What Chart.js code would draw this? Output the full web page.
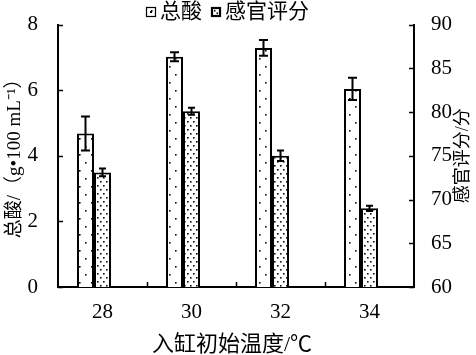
<!DOCTYPE html>
<html>
<head>
<meta charset="utf-8">
<script src="https://cdn.jsdelivr.net/npm/chart.js@4.4.1/dist/chart.umd.min.js"></script>
<style>
html, body { margin: 0; padding: 0; background: #fff; }
#wrap { width: 476px; height: 355px; }
</style>
</head>
<body>
<div id="wrap"><canvas id="chart"></canvas></div>
<script>
// data
var temps = ['28', '30', '32', '34'];
var totalAcid = [4.68, 7.02, 7.29, 6.04];
var totalAcidErr = [0.52, 0.14, 0.24, 0.34];
var sensory = [73.1, 80.1, 75.0, 69.0];
var sensoryErr = [0.45, 0.4, 0.6, 0.3];
var acidTicks = [0, 2, 4, 6, 8];
var sensoryTicks = [60, 65, 70, 75, 80, 85, 90];

var serif = "'Liberation Serif', 'Times New Roman', Tinos, serif";
var cjk = "'Liberation Serif', 'Noto Sans CJK SC', sans-serif";

Chart.defaults.font.family = serif;
Chart.defaults.color = '#000';

var ctx = document.getElementById('chart').getContext('2d');

function dotPattern(w, h, dots, size) {
    var c = document.createElement('canvas');
    c.width = w; c.height = h;
    var g = c.getContext('2d');
    g.fillStyle = '#fff';
    g.fillRect(0, 0, w, h);
    g.fillStyle = '#111';
    dots.forEach(function(d) { g.fillRect(d[0], d[1], size, size); });
    return ctx.createPattern(c, 'repeat');
}

var sparse = dotPattern(12, 16, [[1, 2], [7, 10]], 1.6);
var dense = dotPattern(6, 8, [[1, 1], [4, 5]], 1.6);

// error bars, inward tick marks, titles and legend
var extras = {
    id: 'extras',
    afterDatasetsDraw: function(chart) {
        var c = chart.ctx;
        c.save();
        c.strokeStyle = '#000';
        c.lineWidth = 2;
        [[0, totalAcidErr, 'y', 4.5], [1, sensoryErr, 'y1', 3.5]].forEach(function(s) {
            var meta = chart.getDatasetMeta(s[0]);
            var vals = chart.data.datasets[s[0]].data;
            var scale = chart.scales[s[2]];
            meta.data.forEach(function(bar, j) {
                var hi = scale.getPixelForValue(vals[j] + s[1][j]);
                var lo = scale.getPixelForValue(vals[j] - s[1][j]);
                var w = s[3];
                c.beginPath();
                c.moveTo(bar.x, hi); c.lineTo(bar.x, lo);
                c.moveTo(bar.x - w, hi); c.lineTo(bar.x + w, hi);
                c.moveTo(bar.x - w, lo); c.lineTo(bar.x + w, lo);
                c.stroke();
            });
        });
        c.restore();
    },
    afterDraw: function(chart) {
        var c = chart.ctx;
        var a = chart.chartArea;
        var y = chart.scales.y, y1 = chart.scales.y1, x = chart.scales.x;
        c.save();
        c.strokeStyle = '#000';
        c.lineWidth = 1.5;
        c.beginPath();
        acidTicks.forEach(function(v) {
            var p = Math.round(y.getPixelForValue(v)) + 0.5;
            c.moveTo(a.left, p); c.lineTo(a.left + 5, p);
        });
        sensoryTicks.forEach(function(v) {
            var p = Math.round(y1.getPixelForValue(v)) + 0.5;
            c.moveTo(a.right, p); c.lineTo(a.right - 5, p);
        });
        for (var i = 1; i < temps.length; i++) {
            var px = Math.round((x.getPixelForValue(i - 1) + x.getPixelForValue(i)) / 2) + 0.5;
            c.moveTo(px, a.bottom); c.lineTo(px, a.bottom - 5);
        }
        c.stroke();

        // axis titles
        c.fillStyle = '#000';
        c.textAlign = 'center';
        c.textBaseline = 'middle';
        c.font = '22px ' + cjk;
        c.fillText('入缸初始温度/℃', (a.left + a.right) / 2 - 4, 345);

        c.font = '19px ' + cjk;
        c.save();
        c.translate(15, (a.top + a.bottom) / 2 - 2);
        c.rotate(-Math.PI / 2);
        c.fillText('总酸/（g•100 mL⁻¹）', 0, 0);
        c.restore();

        c.font = '18px ' + cjk;
        c.save();
        c.translate(463, (a.top + a.bottom) / 2);
        c.rotate(-Math.PI / 2);
        c.fillText('感官评分/分', 0, 0);
        c.restore();

        // legend
        c.font = '21px ' + cjk;
        c.textAlign = 'left';
        var lx = 146, ly = 12;
        c.fillStyle = sparse;
        c.fillRect(lx, ly - 5, 10, 10);
        c.lineWidth = 1.2;
        c.strokeRect(lx + 0.5, ly - 5 + 0.5, 9, 9);
        c.fillStyle = '#000';
        c.fillRect(lx + 4, ly - 1, 2, 2);
        c.fillText('总酸', lx + 14, ly);
        var lx2 = lx + 65;
        c.fillStyle = '#fff';
        c.fillRect(lx2, ly - 5, 10, 10);
        c.lineWidth = 2.2;
        c.strokeRect(lx2 + 1, ly - 4, 8, 8);
        c.fillStyle = '#000';
        c.fillRect(lx2 + 3, ly - 2, 1.5, 1.5);
        c.fillRect(lx2 + 5.5, ly + 0.5, 1.5, 1.5);
        c.fillText('感官评分', lx2 + 14, ly);
        c.restore();
    }
};

var config = {
    type: 'bar',
    data: {
        labels: temps,
        datasets: [{
            label: '总酸',
            data: totalAcid,
            yAxisID: 'y',
            backgroundColor: sparse,
            borderColor: '#000',
            borderWidth: 2
        }, {
            label: '感官评分',
            data: sensory,
            yAxisID: 'y1',
            backgroundColor: dense,
            borderColor: '#000',
            borderWidth: 2
        }, {
            // empty slot so the pair sits left of the category centre
            label: '',
            data: temps.map(function() { return null; }),
            yAxisID: 'y'
        }]
    },
    options: {
        responsive: true,
        maintainAspectRatio: false,
        animation: false,
        devicePixelRatio: 1,
        categoryPercentage: 0.573,
        barPercentage: 1,
        layout: { padding: { top: 13, left: 0, right: 0, bottom: 0 } },
        plugins: {
            legend: { display: false },
            tooltip: { enabled: false }
        },
        scales: {
            x: {
                grid: { display: false },
                border: { display: true, color: '#000', width: 2 },
                ticks: { color: '#000', padding: 5, font: { family: serif, size: 21 } },
                afterFit: function(s) { s.height = 68; }
            },
            y: {
                position: 'left',
                min: acidTicks[0],
                max: acidTicks[acidTicks.length - 1],
                grid: { display: false },
                border: { display: true, color: '#000', width: 2 },
                ticks: { stepSize: 2, color: '#000', padding: 12, font: { family: serif, size: 21 } },
                afterFit: function(s) { s.width = 58; }
            },
            y1: {
                position: 'right',
                min: sensoryTicks[0],
                max: sensoryTicks[sensoryTicks.length - 1],
                grid: { display: false },
                border: { display: true, color: '#000', width: 2 },
                ticks: { stepSize: 5, color: '#000', padding: 9, font: { family: serif, size: 21 } },
                afterFit: function(s) { s.width = 62; }
            }
        }
    },
    plugins: [extras]
};

window.myChart = new Chart(ctx, config);
</script>
</body>
</html>
